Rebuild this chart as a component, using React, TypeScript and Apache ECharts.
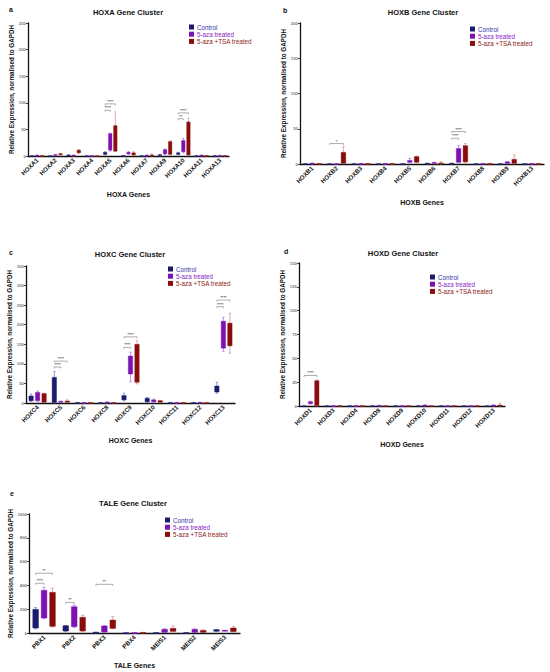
import React, { useEffect, useRef } from "react";
import * as echarts from "echarts";

// ---------- data: [min, Q1, Q3, max] per gene ----------
const CATS_A = ["HOXA1", "HOXA2", "HOXA3", "HOXA4", "HOXA5", "HOXA6", "HOXA7", "HOXA9", "HOXA10", "HOXA11", "HOXA13"];
const CTRL_A = [[0, 0.2, 0.6, 0.8], [0, 0.2, 0.5, 0.8], [0.5, 1, 2, 2.5], [0, 0.2, 0.4, 0.6], [2, 3, 7, 8], [0, 0.3, 0.8, 1], [0, 0.2, 0.5, 0.8], [0.5, 1, 2.5, 3], [2, 3, 6, 7], [0, 0.2, 0.5, 0.7], [0, 0.2, 0.4, 0.6]];
const AZA_A = [[0, 0.5, 1.5, 2], [0.5, 1, 2.5, 3], [0, 0.5, 1.5, 2], [0, 0.3, 0.8, 1], [9, 11, 42, 43], [3, 4, 7, 8], [0, 0.5, 1.5, 2], [3, 4, 12, 13], [6, 8, 29, 33], [0, 0.5, 1.5, 2], [0, 0.3, 1, 1.5]];
const TSA_A = [[0, 0.3, 0.8, 1], [1.5, 2.5, 4.5, 5], [5, 6, 11, 12], [0, 0.2, 0.6, 0.8], [8, 9, 57, 83], [1, 2, 6, 9], [0, 0.5, 2, 4], [2, 3, 27, 29], [1, 2, 64, 71], [0, 0.3, 0.8, 1], [0, 0.3, 0.8, 1]];
// [category, from group, to group, y, label]
const SIG_A = [[4, 0, 2, 98, "****"], [4, 0, 1, 86, "****"], [8, 0, 2, 81, "****"], [8, 0, 1, 70, "**"]];

const CATS_B = ["HOXB1", "HOXB2", "HOXB3", "HOXB4", "HOXB5", "HOXB6", "HOXB7", "HOXB8", "HOXB9", "HOXB13"];
const CTRL_B = [[0, 0.1, 0.4, 0.6], [0, 0.1, 0.4, 0.6], [0, 0.1, 0.4, 0.6], [0, 0.1, 0.4, 0.6], [0, 0.1, 0.4, 0.6], [0, 0.3, 1, 1.2], [0, 0.3, 1, 1.2], [0, 0.1, 0.4, 0.6], [0, 0.1, 0.4, 0.6], [0, 0.1, 0.4, 0.6]];
const AZA_B = [[0, 0.3, 1, 1.5], [0, 0.1, 0.4, 0.6], [0, 0.2, 0.6, 0.8], [0, 0.2, 0.6, 0.8], [1.5, 2.5, 5, 8], [0.5, 1, 2, 2.5], [1.5, 2.5, 22, 26.5], [0, 0.2, 0.6, 0.8], [0.5, 1, 3, 3.5], [0, 0.2, 0.6, 0.8]];
const TSA_B = [[0, 0.2, 0.6, 0.8], [0.5, 1, 16.5, 24.5], [0, 0.2, 0.6, 0.8], [0, 0.2, 0.6, 0.8], [1.5, 2.5, 10.5, 11], [0, 0.5, 1.5, 3], [2, 3, 26, 29], [0, 0.2, 0.6, 0.8], [0.5, 1, 6.6, 12.7], [0, 0.2, 0.6, 0.8]];
const SIG_B = [[1, 0, 2, 29, "*"], [6, 0, 2, 46, "****"], [6, 0, 1, 36.5, "****"]];

const CATS_C = ["HOXC4", "HOXC5", "HOXC6", "HOXC8", "HOXC9", "HOXC10", "HOXC11", "HOXC12", "HOXC13"];
const CTRL_C = [[4, 6, 18, 23], [0, 1, 65.5, 80], [0, 0.3, 1, 1.5], [0, 0.3, 1, 1.5], [6, 8, 19, 25], [2, 3, 12, 14], [0, 0.3, 1, 1.5], [0, 0.3, 1, 1.5], [25, 28, 43.5, 53]];
const AZA_C = [[4, 6, 27, 30.5], [1, 2, 4, 5], [0, 0.3, 1, 1.5], [0, 1, 2.5, 3], [54, 74, 120, 130], [2, 3, 8, 10], [0, 0.3, 1, 1.5], [0, 0.5, 1.5, 2], [132, 140, 209, 219]];
const TSA_C = [[1, 2, 24, 25], [1, 2, 5, 8], [0, 0.3, 1, 1.5], [0, 0.3, 1, 1.5], [49, 53, 150, 159], [1, 2, 6, 7], [0, 0.3, 1, 1.5], [0, 0.3, 1, 1.5], [127, 146, 204, 229]];
const SIG_C = [[1, 0, 2, 107, "****"], [1, 0, 1, 92, "****"], [4, 0, 2, 169, "****"], [4, 0, 1, 142, "****"], [8, 0, 2, 263, "****"], [8, 0, 1, 246, "****"]];

const CATS_D = ["HOXD1", "HOXD3", "HOXD4", "HOXD8", "HOXD9", "HOXD10", "HOXD11", "HOXD12", "HOXD13"];
const CTRL_D = [[0, 0.05, 0.2, 0.3], [0, 0.05, 0.2, 0.3], [0, 0.05, 0.2, 0.3], [0, 0.05, 0.2, 0.3], [0, 0.05, 0.2, 0.3], [0, 0.05, 0.2, 0.3], [0, 0.05, 0.2, 0.3], [0, 0.05, 0.2, 0.3], [0, 0.05, 0.2, 0.3]];
const AZA_D = [[2, 2.5, 4.5, 5], [0, 0.1, 0.3, 0.4], [0, 0.1, 0.3, 0.4], [0, 0.2, 0.6, 0.8], [0, 0.1, 0.3, 0.4], [0, 0.3, 1, 1.2], [0, 0.1, 0.3, 0.4], [0, 0.1, 0.3, 0.4], [0, 0.3, 1, 1.2]];
const TSA_D = [[0, 0.5, 26.5, 27.5], [0, 0.1, 0.3, 0.4], [0, 0.1, 0.3, 0.4], [0, 0.1, 0.3, 0.4], [0, 0.1, 0.3, 0.4], [0, 0.1, 0.3, 0.4], [0, 0.1, 0.3, 0.4], [0, 0.1, 0.3, 0.4], [0, 0.3, 1, 3]];
const SIG_D = [[0, 0, 2, 32, "****"]];

const CATS_E = ["PBX1", "PBX2", "PBX3", "PBX4", "MEIS1", "MEIS2", "MEIS3"];
const CTRL_E = [[35, 42, 199, 213], [12, 17, 61, 63], [1, 2, 6, 8], [0, 0.5, 2, 3], [0, 1, 3, 4], [0, 1, 3, 4], [12, 15, 28, 30]];
const AZA_E = [[120, 126, 359, 384], [48, 53, 221, 235], [5, 8, 59, 63], [0, 1, 3, 4], [4, 6, 31, 35], [4, 6, 31, 35], [16, 18, 22, 24]];
const TSA_E = [[50, 56, 342, 376], [14, 17, 132, 149], [36, 39, 109, 137], [0, 1, 4, 6], [10, 14, 39, 59], [4, 6, 22, 25], [10, 12, 42, 53]];
const SIG_E = [[0, 0, 2, 502, "**"], [0, 0, 1, 418, "****"], [1, 0, 1, 257, "**"], [2, 0, 2, 409, "**"]];

const SERIES_NAMES = ["Control", "5-aza treated", "5-aza +TSA treated"];
const FILL = ["#1b1b6e", "#7c12b0", "#8a0d0d"];
const LIGHT = ["#6c6cc4", "#b266e0", "#d28a8a"];
const LEGEND_TEXT = ["#3535a8", "#8a22c4", "#8e1a1a"];
const OFFS = [-0.28, 0, 0.28];
const FONT = "'Liberation Sans', Arial, Helvetica, sans-serif";

const PANELS = [
  { letter: "a", title: "HOXA Gene Cluster", xName: "HOXA Genes", cats: CATS_A, groups: [CTRL_A, AZA_A, TSA_A], sig: SIG_A, max: 250, interval: 50,
    grid: { left: 28, top: 23, width: 201, height: 133 }, legend: { left: 189, top: 24 }, titlePos: [128, 12], letterPos: [9, 9], xGap: 35 },
  { letter: "b", title: "HOXB Gene Cluster", xName: "HOXB Genes", cats: CATS_B, groups: [CTRL_B, AZA_B, TSA_B], sig: SIG_B, max: 200, interval: 50,
    grid: { left: 300, top: 23, width: 244, height: 141 }, legend: { left: 470, top: 26 }, titlePos: [423, 12], letterPos: [283, 10], xGap: 35 },
  { letter: "c", title: "HOXC Gene Cluster", xName: "HOXC Genes", cats: CATS_C, groups: [CTRL_C, AZA_C, TSA_C], sig: SIG_C, max: 350, interval: 50,
    grid: { left: 26, top: 266, width: 209, height: 137 }, legend: { left: 168, top: 266 }, titlePos: [130, 254], letterPos: [9, 252], xGap: 34 },
  { letter: "d", title: "HOXD Gene Cluster", xName: "HOXD Genes", cats: CATS_D, groups: [CTRL_D, AZA_D, TSA_D], sig: SIG_D, max: 150, interval: 25,
    grid: { left: 299, top: 263, width: 206, height: 143 }, legend: { left: 430, top: 274 }, titlePos: [403, 253], letterPos: [284, 251], xGap: 35 },
  { letter: "e", title: "TALE Gene Cluster", xName: "TALE Genes", cats: CATS_E, groups: [CTRL_E, AZA_E, TSA_E], sig: SIG_E, max: 1000, interval: 200,
    grid: { left: 29, top: 514, width: 211, height: 119 }, legend: { left: 165, top: 517 }, titlePos: [133, 503], letterPos: [10, 493], xGap: 29 },
];

function boxRenderer(g: number) {
  return (params: any, api: any) => {
    const cat = api.value(0);
    const band = api.size([1, 0])[0];
    const cx = api.coord([cat, 0])[0] + OFFS[g] * band;
    const w = band * 0.19;
    const yMin = api.coord([cat, api.value(1)])[1];
    const yQ1 = api.coord([cat, api.value(2)])[1];
    const yQ3 = api.coord([cat, api.value(3)])[1];
    const yMax = api.coord([cat, api.value(4)])[1];
    const cap = w * 0.55;
    const ls = { stroke: LIGHT[g], lineWidth: 0.7 };
    return {
      type: "group",
      children: [
        { type: "line", shape: { x1: cx, y1: yMax, x2: cx, y2: yMin }, style: ls },
        { type: "line", shape: { x1: cx - cap / 2, y1: yMax, x2: cx + cap / 2, y2: yMax }, style: ls },
        { type: "line", shape: { x1: cx - cap / 2, y1: yMin, x2: cx + cap / 2, y2: yMin }, style: ls },
        {
          type: "rect",
          shape: { x: cx - w / 2, y: yQ3, width: w, height: Math.max(yQ1 - yQ3, 0.8) },
          style: { fill: FILL[g], stroke: FILL[g], lineWidth: 0.4 },
        },
      ],
    };
  };
}

function sigRenderer(sig: any[]) {
  return (params: any, api: any) => {
    const item = sig[params.dataIndex];
    const cat = api.value(0);
    const band = api.size([1, 0])[0];
    const base = api.coord([cat, api.value(1)]);
    const x1 = base[0] + OFFS[item[1]] * band;
    const x2 = base[0] + OFFS[item[2]] * band;
    const y = base[1];
    const st = { stroke: "#777", lineWidth: 0.6 };
    return {
      type: "group",
      children: [
        { type: "line", shape: { x1, y1: y, x2, y2: y }, style: st },
        { type: "line", shape: { x1, y1: y, x2: x1, y2: y + 1.5 }, style: st },
        { type: "line", shape: { x1: x2, y1: y, x2, y2: y + 1.5 }, style: st },
        {
          type: "text",
          x: (x1 + x2) / 2,
          y: y - 0.5,
          style: { text: item[4], fill: "#666", font: `bold 4px ${FONT}`, align: "center", verticalAlign: "bottom" },
        },
      ],
    };
  };
}

export default function App() {
  const ref = useRef<HTMLDivElement>(null);
  useEffect(() => {
    document.body.style.margin = "0";
    if (!ref.current) return;
    const chart = echarts.init(ref.current, null, { renderer: "svg" });
    const grid: any[] = [];
    const xAxis: any[] = [];
    const yAxis: any[] = [];
    const legend: any[] = [];
    const series: any[] = [];
    const graphic: any[] = [];
    PANELS.forEach((p, i) => {
      grid.push({ ...p.grid, containLabel: false });
      xAxis.push({
        type: "category",
        gridIndex: i,
        data: p.cats,
        name: p.xName,
        nameLocation: "middle",
        nameGap: p.xGap,
        nameTextStyle: { fontFamily: FONT, fontWeight: "bold", fontSize: 7, color: "#111" },
        axisLine: { lineStyle: { color: "#111", width: 1.3 } },
        axisTick: { alignWithLabel: true, length: 2, lineStyle: { color: "#111", width: 0.8 } },
        axisLabel: { rotate: 45, fontFamily: FONT, fontWeight: "bold", fontSize: 6.2, color: "#111", margin: 3, interval: 0 },
        splitLine: { show: false },
      });
      yAxis.push({
        type: "value",
        gridIndex: i,
        min: 0,
        max: p.max,
        interval: p.interval,
        name: "Relative Expression, normalised to GAPDH",
        nameLocation: "middle",
        nameRotate: 90,
        nameGap: 14,
        nameTextStyle: { fontFamily: FONT, fontWeight: "bold", fontSize: 6.3, color: "#111" },
        axisLine: { show: true, lineStyle: { color: "#111", width: 1.3 } },
        axisTick: { show: true, length: 2, lineStyle: { color: "#111", width: 0.8 } },
        axisLabel: { fontFamily: FONT, fontWeight: "bold", fontSize: 4.3, color: "#777", margin: 2, formatter: (v: number) => String(v) },
        splitLine: { show: false },
      });
      legend.push({
        orient: "vertical",
        left: p.legend.left,
        top: p.legend.top,
        icon: "rect",
        itemWidth: 5,
        itemHeight: 5,
        itemGap: 1.2,
        padding: 0,
        selectedMode: false,
        textStyle: { fontFamily: FONT, fontSize: 6.3, lineHeight: 6, padding: [0, 0, 0, -2] },
        data: SERIES_NAMES.map((n, g) => ({ name: n, textStyle: { color: LEGEND_TEXT[g] } })),
      });
      p.groups.forEach((rows, g) => {
        series.push({
          type: "custom",
          name: SERIES_NAMES[g],
          xAxisIndex: i,
          yAxisIndex: i,
          itemStyle: { color: FILL[g] },
          renderItem: boxRenderer(g),
          encode: { x: 0, y: [1, 2, 3, 4] },
          data: rows.map((r, c) => [c, ...r]),
          z: 3,
        });
      });
      series.push({
        type: "custom",
        name: "sig" + i,
        xAxisIndex: i,
        yAxisIndex: i,
        renderItem: sigRenderer(p.sig),
        encode: { x: 0, y: 1 },
        data: p.sig.map((s) => [s[0], s[3]]),
        silent: true,
        z: 4,
      });
      graphic.push({
        type: "text",
        x: p.titlePos[0],
        y: p.titlePos[1],
        style: { text: p.title, font: `bold 7.5px ${FONT}`, fill: "#111", align: "center", verticalAlign: "middle" },
      });
      graphic.push({
        type: "text",
        x: p.letterPos[0],
        y: p.letterPos[1],
        style: { text: p.letter, font: `bold 7px ${FONT}`, fill: "#111", align: "left", verticalAlign: "middle" },
      });
    });
    chart.setOption({
      animation: false,
      backgroundColor: "#fff",
      grid,
      xAxis,
      yAxis,
      legend,
      series,
      graphic,
    });
    return () => chart.dispose();
  }, []);
  return <div ref={ref} style={{ width: 550, height: 672 }} />;
}
